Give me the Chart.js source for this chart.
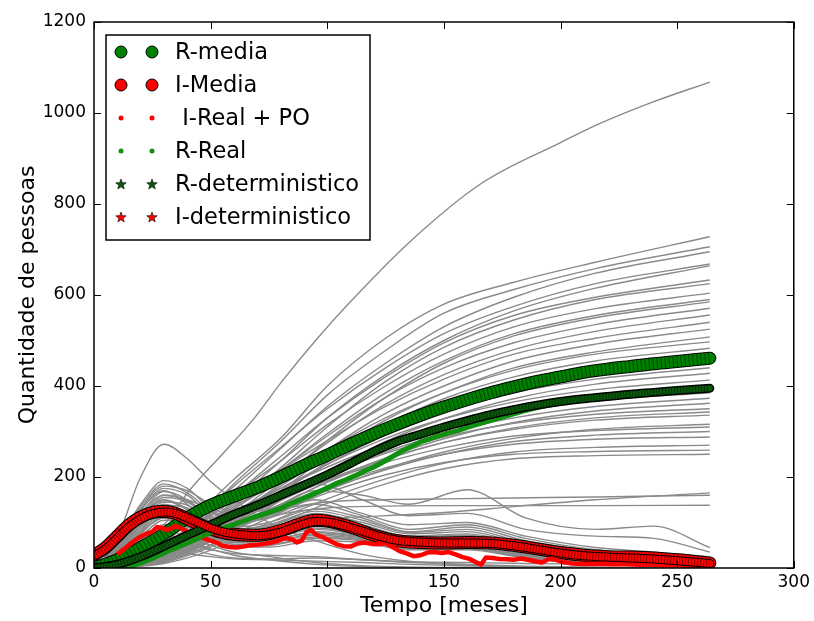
<!DOCTYPE html>
<html>
<head>
<meta charset="utf-8">
<script src="https://cdn.jsdelivr.net/npm/chart.js@4.4.1/dist/chart.umd.min.js"></script>
<style>
  html, body { margin: 0; padding: 0; background: #fff; }
  #wrap { width: 814px; height: 621px; }
</style>
</head>
<body>
<div id="wrap"><canvas id="epiChart" width="814" height="621"></canvas></div>
<script>
// Tempo em meses para cada grupo de dados
const simRT = [0, 15, 30, 45, 60, 80, 100, 125, 150, 180, 215, 264];
const simIT = [0, 10, 20, 30, 40, 50, 60, 75, 95, 115, 135, 160, 185, 215, 240, 264];
const outlierRT = [0, 15, 30, 41, 55, 68, 81, 95, 109, 135, 166, 200, 216, 240, 264];
const meanIT = [0, 5, 10, 15, 20, 25, 30, 35, 40, 45, 50, 55, 60, 70, 80, 90, 95, 100, 110, 120, 130, 140, 150, 160, 170, 180, 190, 200, 210, 220, 230, 240, 250, 264];
const meanRT = [0, 10, 20, 30, 40, 50, 60, 70, 80, 90, 100, 110, 120, 130, 140, 150, 160, 170, 180, 190, 200, 210, 220, 230, 240, 250, 264];
const rRealT = [12, 16, 20, 24, 28, 32, 36, 40, 44, 48, 52, 56, 60, 64, 68, 72, 76, 80, 84, 88, 92, 96, 100, 104, 108, 112, 116, 120, 124, 128, 132, 136, 140, 144, 148, 152, 156, 160, 164, 168, 172, 176, 180, 184, 188, 192, 196, 200, 204];
const iRealT = [10, 13, 16, 19, 22, 25, 27, 29, 31, 33, 35, 37, 40, 43, 46, 49, 52, 55, 58, 61, 64, 67, 70, 73, 76, 79, 82, 85, 87, 89, 91, 93, 95, 98, 101, 104, 107, 110, 113, 116, 119, 122, 125, 128, 131, 134, 137, 140, 143, 146, 149, 152, 155, 158, 161, 164, 166, 168, 171, 174, 177, 180, 183, 186, 189, 192, 195, 198, 201, 205, 210, 216, 222, 228, 234, 240, 246, 252, 258, 264];

// Simulacoes estocasticas: recuperados (R)
const simR = [
  [0, 14, 55, 122, 195, 285, 400, 505, 580, 628, 672, 728],
  [0, 10, 45, 110, 185, 278, 380, 478, 560, 612, 658, 706],
  [0, 8, 40, 100, 170, 262, 355, 450, 530, 595, 648, 695],
  [0, 12, 48, 112, 180, 265, 350, 440, 515, 575, 625, 668],
  [0, 6, 30, 80, 145, 235, 330, 425, 500, 565, 615, 664],
  [0, 9, 38, 95, 160, 245, 330, 420, 495, 555, 595, 633],
  [0, 5, 28, 75, 135, 220, 310, 410, 485, 545, 590, 625],
  [0, 10, 42, 100, 160, 235, 315, 400, 470, 530, 570, 604],
  [0, 7, 32, 82, 140, 215, 295, 385, 455, 515, 555, 590],
  [0, 4, 22, 62, 118, 195, 280, 375, 450, 510, 550, 585],
  [0, 8, 35, 88, 145, 215, 290, 375, 440, 495, 535, 571],
  [0, 6, 30, 76, 130, 200, 275, 360, 425, 480, 520, 556],
  [0, 9, 40, 95, 150, 215, 280, 355, 415, 470, 505, 540],
  [0, 5, 25, 65, 115, 185, 260, 340, 400, 455, 492, 525],
  [0, 3, 18, 52, 100, 170, 245, 325, 385, 440, 475, 508],
  [0, 7, 33, 80, 130, 195, 260, 330, 385, 435, 470, 497],
  [0, 6, 28, 70, 118, 180, 245, 315, 372, 420, 455, 483],
  [0, 4, 20, 55, 100, 165, 232, 305, 360, 410, 443, 470],
  [0, 8, 36, 85, 135, 190, 245, 305, 352, 398, 430, 455],
  [0, 5, 24, 62, 108, 168, 228, 292, 340, 385, 415, 440],
  [0, 3, 15, 45, 88, 148, 210, 278, 328, 372, 404, 428],
  [0, 6, 30, 72, 120, 175, 228, 285, 328, 365, 392, 413],
  [0, 4, 22, 58, 100, 155, 210, 268, 315, 352, 380, 400],
  [0, 7, 34, 80, 125, 175, 222, 272, 310, 345, 368, 385],
  [0, 5, 26, 64, 105, 155, 205, 255, 295, 330, 355, 373],
  [0, 3, 16, 46, 85, 138, 190, 242, 284, 320, 345, 362],
  [0, 6, 28, 68, 110, 158, 205, 252, 288, 318, 338, 350],
  [0, 4, 20, 52, 92, 140, 188, 238, 276, 308, 330, 343],
  [0, 5, 24, 60, 100, 148, 194, 240, 276, 305, 325, 336],
  [0, 3, 14, 40, 75, 122, 170, 218, 255, 285, 305, 316],
  [0, 6, 30, 70, 110, 152, 192, 232, 264, 290, 302, 310],
  [0, 4, 18, 48, 85, 130, 172, 216, 250, 278, 292, 300],
  [0, 5, 24, 58, 95, 138, 178, 220, 250, 272, 283, 288],
  [0, 3, 12, 36, 68, 110, 152, 196, 230, 255, 265, 270],
  [0, 4, 20, 50, 85, 125, 165, 205, 232, 250, 256, 259],
  [0, 2, 10, 30, 60, 100, 142, 185, 218, 240, 247, 250],
  [0, 5, 25, 60, 95, 128, 145, 150, 152, 154, 156, 160],
  [0, 4, 20, 52, 88, 118, 132, 136, 137, 137, 137, 138],
  [0, 3, 15, 40, 70, 95, 108, 115, 122, 135, 150, 165]
];
const outlierR = [0, 25, 95, 171, 250, 325, 413, 500, 580, 715, 845, 935, 975, 1025, 1068];

// Simulacoes estocasticas: infectados (I)
const simI = [
  [25, 70, 200, 272, 240, 190, 150, 100, 60, 30, 15, 6, 2, 0, 0, 0],
  [25, 50, 120, 160, 150, 130, 120, 130, 170, 160, 140, 172, 110, 85, 92, 45],
  [25, 55, 130, 180, 170, 140, 125, 140, 185, 150, 115, 120, 85, 70, 65, 35],
  [25, 60, 140, 192, 175, 130, 105, 115, 150, 120, 95, 100, 70, 45, 35, 25],
  [25, 58, 135, 185, 165, 125, 100, 110, 140, 115, 85, 95, 65, 40, 30, 20],
  [25, 52, 125, 175, 160, 115, 90, 100, 130, 110, 80, 90, 60, 38, 28, 18],
  [25, 50, 118, 168, 150, 110, 85, 95, 125, 105, 78, 85, 55, 35, 25, 15],
  [25, 48, 112, 160, 148, 105, 80, 92, 120, 100, 75, 80, 52, 32, 22, 14],
  [25, 55, 128, 170, 140, 100, 78, 88, 115, 95, 70, 75, 50, 30, 20, 12],
  [25, 45, 105, 155, 145, 108, 82, 88, 110, 92, 68, 72, 48, 28, 18, 10],
  [25, 50, 115, 150, 130, 95, 75, 82, 105, 88, 65, 70, 45, 26, 16, 9],
  [25, 42, 98, 145, 138, 100, 76, 80, 100, 85, 62, 66, 42, 24, 15, 8],
  [25, 46, 108, 148, 128, 92, 70, 76, 98, 80, 58, 62, 40, 22, 14, 7],
  [25, 40, 92, 138, 132, 96, 72, 75, 95, 78, 56, 60, 38, 20, 12, 6],
  [25, 44, 100, 140, 120, 86, 65, 70, 92, 76, 55, 58, 36, 20, 12, 6],
  [25, 38, 85, 130, 125, 90, 66, 68, 88, 74, 54, 56, 35, 18, 10, 5],
  [25, 42, 95, 132, 115, 80, 60, 65, 85, 72, 52, 54, 33, 17, 10, 5],
  [25, 36, 80, 122, 118, 85, 62, 62, 80, 70, 50, 52, 32, 16, 9, 4],
  [25, 40, 90, 125, 108, 76, 56, 60, 78, 68, 48, 50, 30, 15, 8, 4],
  [25, 34, 75, 115, 110, 80, 58, 58, 75, 66, 46, 48, 28, 14, 8, 3],
  [25, 38, 84, 118, 100, 70, 52, 55, 72, 64, 45, 46, 27, 13, 7, 3],
  [25, 32, 70, 105, 100, 72, 52, 52, 68, 62, 44, 44, 25, 12, 6, 3],
  [25, 36, 78, 110, 92, 64, 48, 50, 65, 60, 42, 42, 24, 11, 6, 2],
  [25, 30, 62, 95, 90, 65, 46, 46, 60, 56, 40, 40, 22, 10, 5, 2],
  [25, 35, 65, 80, 70, 50, 35, 25, 12, 5, 2, 1, 0, 0, 0, 0],
  [25, 32, 58, 72, 60, 42, 28, 18, 8, 3, 1, 0, 0, 0, 0, 0],
  [25, 28, 45, 55, 50, 40, 32, 28, 25, 18, 14, 12, 10, 8, 6, 4],
  [25, 30, 50, 60, 45, 30, 22, 20, 22, 18, 12, 8, 4, 2, 1, 0],
  [25, 26, 35, 40, 32, 25, 20, 18, 15, 12, 8, 5, 3, 1, 0, 0]
];

// Medias, modelo deterministico e dados reais
const iMedia = [28, 45, 70, 95, 112, 122, 124, 120, 108, 96, 86, 78, 74, 72, 82, 100, 105, 103, 90, 72, 60, 56, 55, 56, 55, 50, 42, 34, 28, 25, 24, 22, 18, 11];
const iDet = [26, 42, 66, 90, 108, 119, 123, 120, 110, 99, 88, 80, 75, 71, 79, 97, 102, 101, 89, 73, 61, 57, 55, 55, 54, 49, 41, 33, 27, 24, 22, 20, 16, 10];
const rMedia = [0, 18, 45, 75, 110, 138, 158, 177, 200, 225, 248, 272, 295, 316, 336, 354, 370, 385, 398, 410, 420, 430, 437, 443, 449, 454, 461];
const rDet = [0, 8, 25, 48, 72, 95, 118, 138, 160, 182, 205, 230, 256, 278, 294, 310, 324, 337, 348, 358, 366, 372, 377, 382, 386, 390, 395];
const rReal = [0, 4, 11, 19, 28, 38, 46, 55, 64, 74, 82, 89, 96, 103, 111, 117, 124, 131, 141, 149, 158, 167, 176, 186, 194, 203, 213, 222, 233, 245, 257, 267, 277, 284, 291, 297, 302, 309, 315, 321, 327, 333, 339, 345, 350, 355, 359, 363, 366];
const iReal = [30, 42, 55, 66, 74, 80, 90, 88, 84, 86, 93, 88, 80, 74, 68, 62, 57, 49, 46, 45, 47, 50, 51, 53, 56, 60, 66, 63, 56, 60, 78, 84, 74, 68, 60, 52, 48, 47, 54, 56, 53, 52, 55, 46, 37, 32, 26, 28, 34, 35, 33, 35, 30, 24, 20, 12, 8, 23, 22, 20, 19, 18, 21, 18, 15, 12, 20, 18, 13, 10, 9, 9, 8, 8, 7, 7, 6, 6, 5, 5];

const seriesNames = ['R-media', 'I-Media', ' I-Real + PO', 'R-Real', 'R-deterministico', 'I-deterministico'];
const xTicks = [0, 50, 100, 150, 200, 250, 300];
const yTicks = [0, 200, 400, 600, 800, 1000, 1200];
const xTitle = 'Tempo [meses]';
const yTitle = 'Quantidade de pessoas';

const GREEN = '#008000';
const DARKGREEN = '#0b5a0b';
const RED = '#ff0000';
const FONT = "'DejaVu Sans', sans-serif";

function pts(ts, vs) {
  return ts.map((t, i) => ({ x: t, y: vs[i] }));
}

function line(data, color, width, order, extra) {
  return Object.assign({
    data: data,
    borderColor: color,
    borderWidth: width,
    pointRadius: 0,
    fill: false,
    clip: 0,
    order: order,
    borderJoinStyle: 'round',
    cubicInterpolationMode: 'monotone'
  }, extra || {});
}

// faixa grossa com contorno escuro e textura de marcadores
function band(data, fillColor, edgeW, fillW, order, dash) {
  return [
    line(data, '#000', edgeW, order, { borderCapStyle: 'round' }),
    line(data, fillColor, fillW, order - 0.1, { borderCapStyle: 'round' }),
    line(data, 'rgba(0,0,0,0.45)', fillW, order - 0.2, { borderDash: dash })
  ];
}

const datasets = [];
simR.forEach(v => datasets.push(line(pts(simRT, v), '#8a8a8a', 1.4, 100)));
datasets.push(line(pts(outlierRT, outlierR), '#8a8a8a', 1.4, 100));
simI.forEach(v => datasets.push(line(pts(simIT, v), '#8a8a8a', 1.4, 100)));

datasets.push(...band(pts(meanRT, rMedia), GREEN, 13, 11, 60, [1, 3]));
datasets.push(...band(pts(meanIT, iMedia), RED, 13, 11, 50, [1, 3]));
datasets.push(line(pts(iRealT, iReal), RED, 4.5, 40, { cubicInterpolationMode: 'default', tension: 0 }));
datasets.push(line(pts(rRealT, rReal), '#109010', 5, 30, { cubicInterpolationMode: 'default', tension: 0 }));
datasets.push(...band(pts(meanRT, rDet), DARKGREEN, 9, 6, 20, [1, 2]));
datasets.push(...band(pts(meanIT, iDet), RED, 9, 7, 10, [1, 2]));

function star(ctx, cx, cy, r) {
  ctx.beginPath();
  for (let k = 0; k < 10; k++) {
    const rad = k % 2 === 0 ? r : r * 0.42;
    const a = -Math.PI / 2 + k * Math.PI / 5;
    const px = cx + rad * Math.cos(a), py = cy + rad * Math.sin(a);
    k === 0 ? ctx.moveTo(px, py) : ctx.lineTo(px, py);
  }
  ctx.closePath();
}

const decor = {
  id: 'decor',
  afterDraw(chart) {
    const { ctx, chartArea: a, scales } = chart;
    ctx.save();
    // moldura
    ctx.strokeStyle = '#000';
    ctx.lineWidth = 1.5;
    ctx.strokeRect(a.left, a.top, a.right - a.left, a.bottom - a.top);
    // marcas para dentro nos quatro lados
    ctx.lineWidth = 1;
    xTicks.forEach(v => {
      const x = Math.round(scales.x.getPixelForValue(v)) + 0.5;
      ctx.beginPath();
      ctx.moveTo(x, a.bottom); ctx.lineTo(x, a.bottom - 7);
      ctx.moveTo(x, a.top); ctx.lineTo(x, a.top + 7);
      ctx.stroke();
    });
    yTicks.forEach(v => {
      const y = Math.round(scales.y.getPixelForValue(v)) + 0.5;
      ctx.beginPath();
      ctx.moveTo(a.left, y); ctx.lineTo(a.left + 7, y);
      ctx.moveTo(a.right, y); ctx.lineTo(a.right - 7, y);
      ctx.stroke();
    });
    // titulos dos eixos
    ctx.fillStyle = '#000';
    ctx.font = '22px ' + FONT;
    ctx.textAlign = 'center';
    ctx.textBaseline = 'middle';
    ctx.fillText(xTitle, (a.left + a.right) / 2, 606);
    ctx.save();
    ctx.translate(28, (a.top + a.bottom) / 2);
    ctx.rotate(-Math.PI / 2);
    ctx.fillText(yTitle, 0, 0);
    ctx.restore();
    // legenda
    ctx.fillStyle = '#fff';
    ctx.fillRect(106, 35, 264, 205);
    ctx.lineWidth = 1.5;
    ctx.strokeStyle = '#000';
    ctx.strokeRect(106, 35, 264, 205);
    seriesNames.forEach((name, i) => {
      const y = 52 + i * 33;
      [121, 152].forEach(mx => {
        ctx.lineWidth = 1;
        ctx.strokeStyle = '#000';
        if (i < 2) {
          ctx.fillStyle = i === 0 ? GREEN : RED;
          ctx.beginPath(); ctx.arc(mx, y, 6, 0, Math.PI * 2); ctx.fill(); ctx.stroke();
        } else if (i < 4) {
          ctx.fillStyle = i === 2 ? RED : '#109010';
          ctx.beginPath(); ctx.arc(mx, y, 2.5, 0, Math.PI * 2); ctx.fill();
        } else {
          ctx.fillStyle = i === 4 ? DARKGREEN : RED;
          star(ctx, mx, y + 0.5, 5.5); ctx.fill();
          ctx.lineWidth = 0.6; ctx.stroke();
        }
      });
      ctx.fillStyle = '#000';
      ctx.font = '22.5px ' + FONT;
      ctx.textAlign = 'left';
      ctx.textBaseline = 'middle';
      ctx.fillText(name, 175, y + 1);
    });
    ctx.restore();
  }
};

new Chart(document.getElementById('epiChart').getContext('2d'), {
  type: 'line',
  data: { datasets: datasets },
  plugins: [decor],
  options: {
    responsive: false,
    animation: false,
    events: [],
    layout: { padding: { top: 22, right: 17, left: 0, bottom: 0 } },
    plugins: { legend: { display: false }, tooltip: { enabled: false } },
    scales: {
      x: {
        type: 'linear', min: 0, max: 300,
        afterFit: s => { s.height = 53; },
        afterBuildTicks: s => { s.ticks = xTicks.map(v => ({ value: v })); },
        grid: { display: false, drawTicks: false },
        border: { display: false },
        ticks: { color: '#000', padding: 4, font: { family: FONT, size: 17 }, callback: v => String(v) }
      },
      y: {
        type: 'linear', min: 0, max: 1200,
        afterFit: s => { s.width = 94; },
        afterBuildTicks: s => { s.ticks = yTicks.map(v => ({ value: v })); },
        grid: { display: false, drawTicks: false },
        border: { display: false },
        ticks: { color: '#000', padding: 8, font: { family: FONT, size: 17 }, callback: v => String(v) }
      }
    }
  }
});
</script>
</body>
</html>
